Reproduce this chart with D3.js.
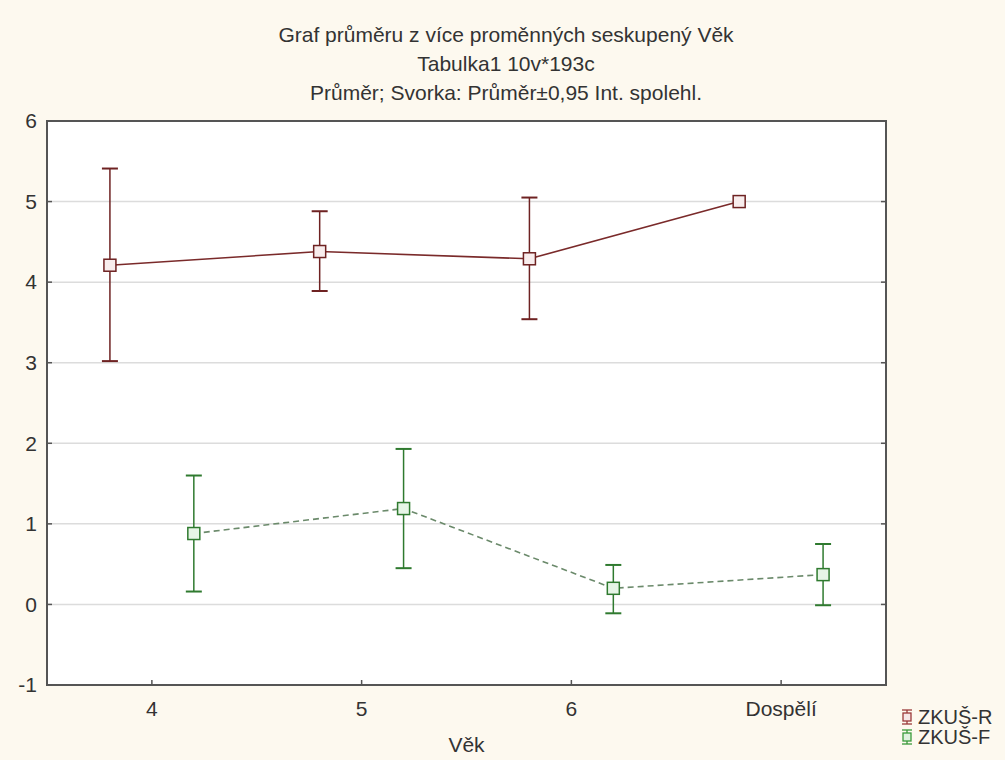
<!DOCTYPE html>
<html>
<head>
<meta charset="utf-8">
<script src="https://cdn.jsdelivr.net/npm/d3@7"></script>
<style>
  html, body { margin: 0; padding: 0; background: #fdf9ef; }
  svg { display: block; }
  text { font-family: "Liberation Sans", Arial, sans-serif; fill: #333; }
</style>
</head>
<body>
<svg id="chart" width="1005" height="760"></svg>
<script>
"use strict";

const categories = ['4', '5', '6', 'Dospělí'];
const yTicks = [-1, 0, 1, 2, 3, 4, 5, 6];

// ZKUŠ-R: mean with 0.95 CI
const seriesR = {
  name: 'ZKUŠ-R',
  mean:  [4.21, 4.38, 4.29, 5.00],
  lower: [3.02, 3.89, 3.54, 5.00],
  upper: [5.41, 4.88, 5.05, 5.00]
};
// ZKUŠ-F
const seriesF = {
  name: 'ZKUŠ-F',
  mean:  [0.88, 1.19, 0.20, 0.37],
  lower: [0.16, 0.45, -0.11, -0.01],
  upper: [1.60, 1.93, 0.49, 0.75]
};

const titleLines = [
  'Graf průměru z více proměnných seskupený Věk',
  'Tabulka1 10v*193c',
  'Průměr; Svorka: Průměr±0,95 Int. spolehl.'
];

const svg = d3.select('#chart');
const pLeft = 47, pRight = 886, pTop = 121, pBottom = 685;
const fs = '21px';

const x = d3.scaleBand().domain(categories).range([pLeft, pRight]);
const y = d3.scaleLinear().domain([-1, 6]).range([pBottom, pTop]);

// plot area
svg.append('rect')
  .attr('x', pLeft).attr('y', pTop)
  .attr('width', pRight - pLeft).attr('height', pBottom - pTop)
  .attr('fill', '#ffffff');

// grid
svg.append('g').selectAll('line').data(yTicks.filter(d => d > -1 && d < 6)).enter().append('line')
  .attr('x1', pLeft).attr('x2', pRight)
  .attr('y1', d => y(d)).attr('y2', d => y(d))
  .attr('stroke', '#dcdcdc').attr('stroke-width', 1.5);

// frame
svg.append('rect')
  .attr('x', pLeft).attr('y', pTop)
  .attr('width', pRight - pLeft).attr('height', pBottom - pTop)
  .attr('fill', 'none').attr('stroke', '#555').attr('stroke-width', 2);

// y axis ticks + labels
const yAxis = svg.append('g');
yAxis.selectAll('line.l').data(yTicks).enter().append('line')
  .attr('x1', pLeft).attr('x2', pLeft + 5)
  .attr('y1', d => y(d)).attr('y2', d => y(d))
  .attr('stroke', '#555').attr('stroke-width', 1.5);
yAxis.selectAll('line.r').data(yTicks).enter().append('line')
  .attr('x1', pRight - 5).attr('x2', pRight)
  .attr('y1', d => y(d)).attr('y2', d => y(d))
  .attr('stroke', '#555').attr('stroke-width', 1.5);
yAxis.selectAll('text').data(yTicks).enter().append('text')
  .attr('x', 37).attr('y', d => y(d)).attr('dy', '0.35em')
  .attr('text-anchor', 'end').attr('font-size', fs)
  .text(d => d);

// x axis ticks + labels
const xc = d => x(d) + x.bandwidth() / 2;
const xAxis = svg.append('g');
xAxis.selectAll('line').data(categories).enter().append('line')
  .attr('x1', xc).attr('x2', xc)
  .attr('y1', pBottom - 5).attr('y2', pBottom)
  .attr('stroke', '#555').attr('stroke-width', 1.5);
xAxis.selectAll('text').data(categories).enter().append('text')
  .attr('x', xc).attr('y', 716)
  .attr('text-anchor', 'middle').attr('font-size', fs)
  .text(d => d);
svg.append('text')
  .attr('x', (pLeft + pRight) / 2).attr('y', 752)
  .attr('text-anchor', 'middle').attr('font-size', fs)
  .text('Věk');

// title
svg.append('g').selectAll('text').data(titleLines).enter().append('text')
  .attr('x', 506).attr('y', (d, i) => [42, 71, 100][i])
  .attr('text-anchor', 'middle').attr('font-size', fs)
  .text(d => d);

function drawSeries(s, offset, lineColor, barColor, fill, dash) {
  const g = svg.append('g');
  const px = i => xc(categories[i]) + offset * x.bandwidth();
  const idx = d3.range(categories.length);

  g.append('path')
    .datum(idx)
    .attr('fill', 'none')
    .attr('stroke', lineColor).attr('stroke-width', 1.6)
    .attr('stroke-dasharray', dash)
    .attr('d', d3.line().x(i => px(i)).y(i => y(s.mean[i])));

  const eb = idx.filter(i => s.upper[i] - s.lower[i] > 0.01);
  g.selectAll('line.v').data(eb).enter().append('line')
    .attr('x1', px).attr('x2', px)
    .attr('y1', i => y(s.lower[i])).attr('y2', i => y(s.upper[i]))
    .attr('stroke', barColor).attr('stroke-width', 1.5);
  ['lower', 'upper'].forEach(k => {
    g.selectAll('line.' + k).data(eb).enter().append('line')
      .attr('x1', i => px(i) - 8).attr('x2', i => px(i) + 8)
      .attr('y1', i => y(s[k][i])).attr('y2', i => y(s[k][i]))
      .attr('stroke', barColor).attr('stroke-width', 2);
  });

  g.selectAll('rect').data(idx).enter().append('rect')
    .attr('x', i => px(i) - 6).attr('y', i => y(s.mean[i]) - 6)
    .attr('width', 12).attr('height', 12)
    .attr('fill', fill).attr('stroke', barColor).attr('stroke-width', 1.5);
}

drawSeries(seriesR, -0.2, '#7a2a2a', '#6e2222', '#f8eded', null);
drawSeries(seriesF, 0.2, '#6b8a6b', '#2f7a2f', '#e6f5e6', '6,4');

// legend
const legend = [
  { name: seriesR.name, color: '#9b3a3a', fill: '#f6e6e6' },
  { name: seriesF.name, color: '#3a9a3a', fill: '#dff2df' }
];
const lg = svg.append('g').selectAll('g').data(legend).enter().append('g')
  .attr('transform', (d, i) => 'translate(907,' + (717 + i * 20) + ')');
lg.append('line').attr('x1', 0).attr('x2', 0).attr('y1', -7).attr('y2', 7)
  .attr('stroke', d => d.color).attr('stroke-width', 1.3);
lg.append('line').attr('x1', -5).attr('x2', 5).attr('y1', -7).attr('y2', -7)
  .attr('stroke', d => d.color).attr('stroke-width', 1.3);
lg.append('line').attr('x1', -5).attr('x2', 5).attr('y1', 7).attr('y2', 7)
  .attr('stroke', d => d.color).attr('stroke-width', 1.3);
lg.append('rect').attr('x', -4).attr('y', -4).attr('width', 8).attr('height', 8)
  .attr('fill', d => d.fill).attr('stroke', d => d.color).attr('stroke-width', 1.3);
lg.append('text').attr('x', 11).attr('y', 0).attr('dy', '0.35em')
  .attr('font-size', '20px').text(d => d.name);
</script>
</body>
</html>
